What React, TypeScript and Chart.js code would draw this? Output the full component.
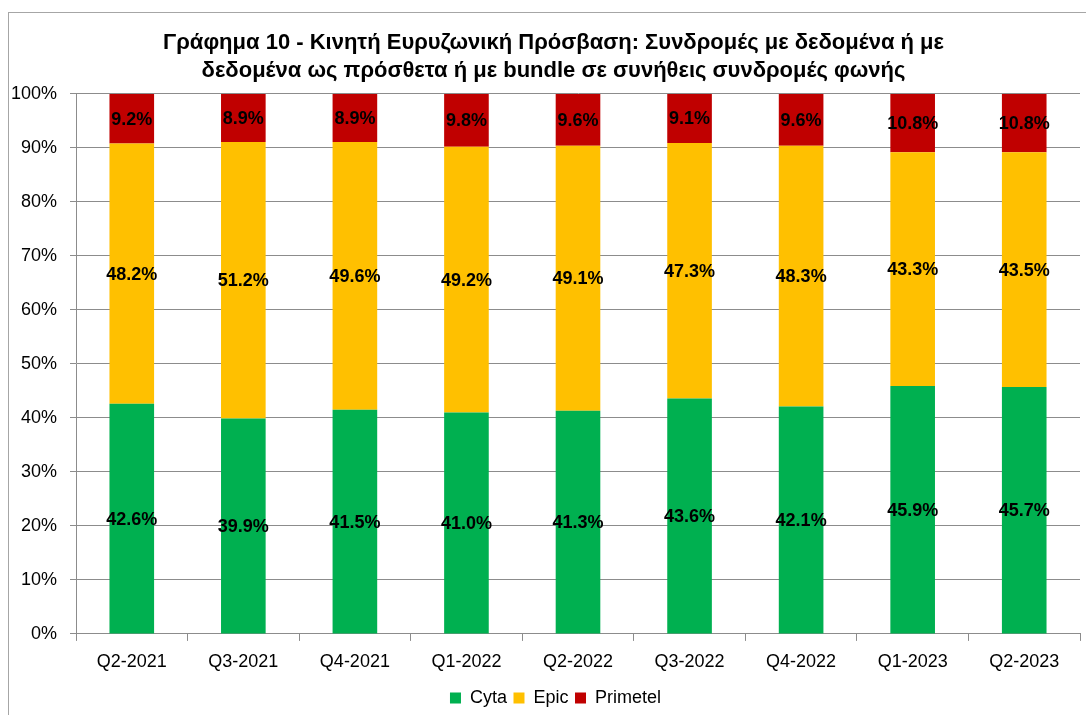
import React, { useEffect, useRef } from "react";
import { Chart, registerables } from "chart.js";

Chart.register(...registerables);

const categories = ["Q2-2021", "Q3-2021", "Q4-2021", "Q1-2022", "Q2-2022", "Q3-2022", "Q4-2022", "Q1-2023", "Q2-2023"];
const cyta = [42.6, 39.9, 41.5, 41.0, 41.3, 43.6, 42.1, 45.9, 45.7];
const epic = [48.2, 51.2, 49.6, 49.2, 49.1, 47.3, 48.3, 43.3, 43.5];
const primetel = [9.2, 8.9, 8.9, 9.8, 9.6, 9.1, 9.6, 10.8, 10.8];
const titleLines = [
  "Γράφημα 10 - Κινητή Ευρυζωνική Πρόσβαση: Συνδρομές με δεδομένα ή με",
  "δεδομένα ως πρόσθετα ή με bundle σε συνήθεις συνδρομές φωνής",
];

const FONT = "'Liberation Sans', Arial, sans-serif";

const labelPlugin = {
  id: "barLabels",
  afterDatasetsDraw(chart: any) {
    const ctx = chart.ctx;
    ctx.save();
    ctx.font = `bold 18px ${FONT}`;
    ctx.fillStyle = "#000";
    ctx.textAlign = "center";
    ctx.textBaseline = "middle";
    chart.data.datasets.forEach((ds: any, di: number) => {
      const meta = chart.getDatasetMeta(di);
      meta.data.forEach((el: any, i: number) => {
        const v = ds.data[i];
        const y = (el.y + el.base) / 2;
        ctx.fillText(v.toFixed(1) + "%", el.x, y + 1);
      });
    });
    ctx.restore();
  },
};

const shiftPlugin = {
  id: "shiftBoxes",
  afterLayout(chart: any) {
    if (chart.titleBlock) {
      chart.titleBlock.left += 9;
      chart.titleBlock.right += 9;
    }
    if (chart.legend) {
      chart.legend.left += 11;
      chart.legend.right += 11;
    }
  },
};

export default function App() {
  const ref = useRef<HTMLCanvasElement>(null);
  useEffect(() => {
    const chart = new Chart(ref.current!, {
      type: "bar",
      data: {
        labels: categories,
        datasets: [
          { label: "Cyta", data: cyta, backgroundColor: "#00B050" },
          { label: "Epic", data: epic, backgroundColor: "#FFC000" },
          { label: "Primetel", data: primetel, backgroundColor: "#C00000" },
        ],
      },
      options: {
        animation: false,
        responsive: true,
        maintainAspectRatio: false,
        layout: { padding: { left: 0, right: 6, top: 0, bottom: 0 } },
        datasets: { bar: { barPercentage: 0.4, categoryPercentage: 1 } },
        plugins: {
          title: {
            display: true,
            text: titleLines,
            color: "#000",
            font: { family: FONT, size: 22, weight: "bold", lineHeight: 1.27 },
            padding: { top: 16, bottom: 9 },
          },
          legend: {
            position: "bottom",
            labels: {
              color: "#000",
              font: { family: FONT, size: 18 },
              boxWidth: 11,
              boxHeight: 11,
              padding: 6.5,
            },
          },
          tooltip: { enabled: false },
        },
        scales: {
          x: {
            stacked: true,
            grid: { display: true, drawOnChartArea: false, drawTicks: true, tickLength: 7, color: "#8c8c8c", offset: true },
            border: { color: "#8c8c8c" },
            ticks: { color: "#000", font: { family: FONT, size: 18 }, padding: 10, maxRotation: 0 },
          },
          y: {
            stacked: true,
            min: 0,
            max: 100,
            grid: { color: "#8c8c8c", tickLength: 6 },
            border: { color: "#8c8c8c" },
            afterFit: (s: any) => { s.width = 67; },
            ticks: {
              stepSize: 10,
              color: "#000",
              font: { family: FONT, size: 18 },
              padding: 13,
              callback: (v: any) => v + "%",
            },
          },
        },
      },
      plugins: [labelPlugin, shiftPlugin],
    });
    return () => chart.destroy();
  }, []);
  return (
    <div style={{ position: "absolute", left: 8, top: 12, width: 1078, height: 720, borderTop: "1px solid #a6a6a6", borderLeft: "1px solid #a6a6a6", background: "#fff" }}>
      <div style={{ position: "absolute", left: 0, top: 0, width: 1077, height: 704 }}>
        <canvas ref={ref} />
      </div>
    </div>
  );
}
